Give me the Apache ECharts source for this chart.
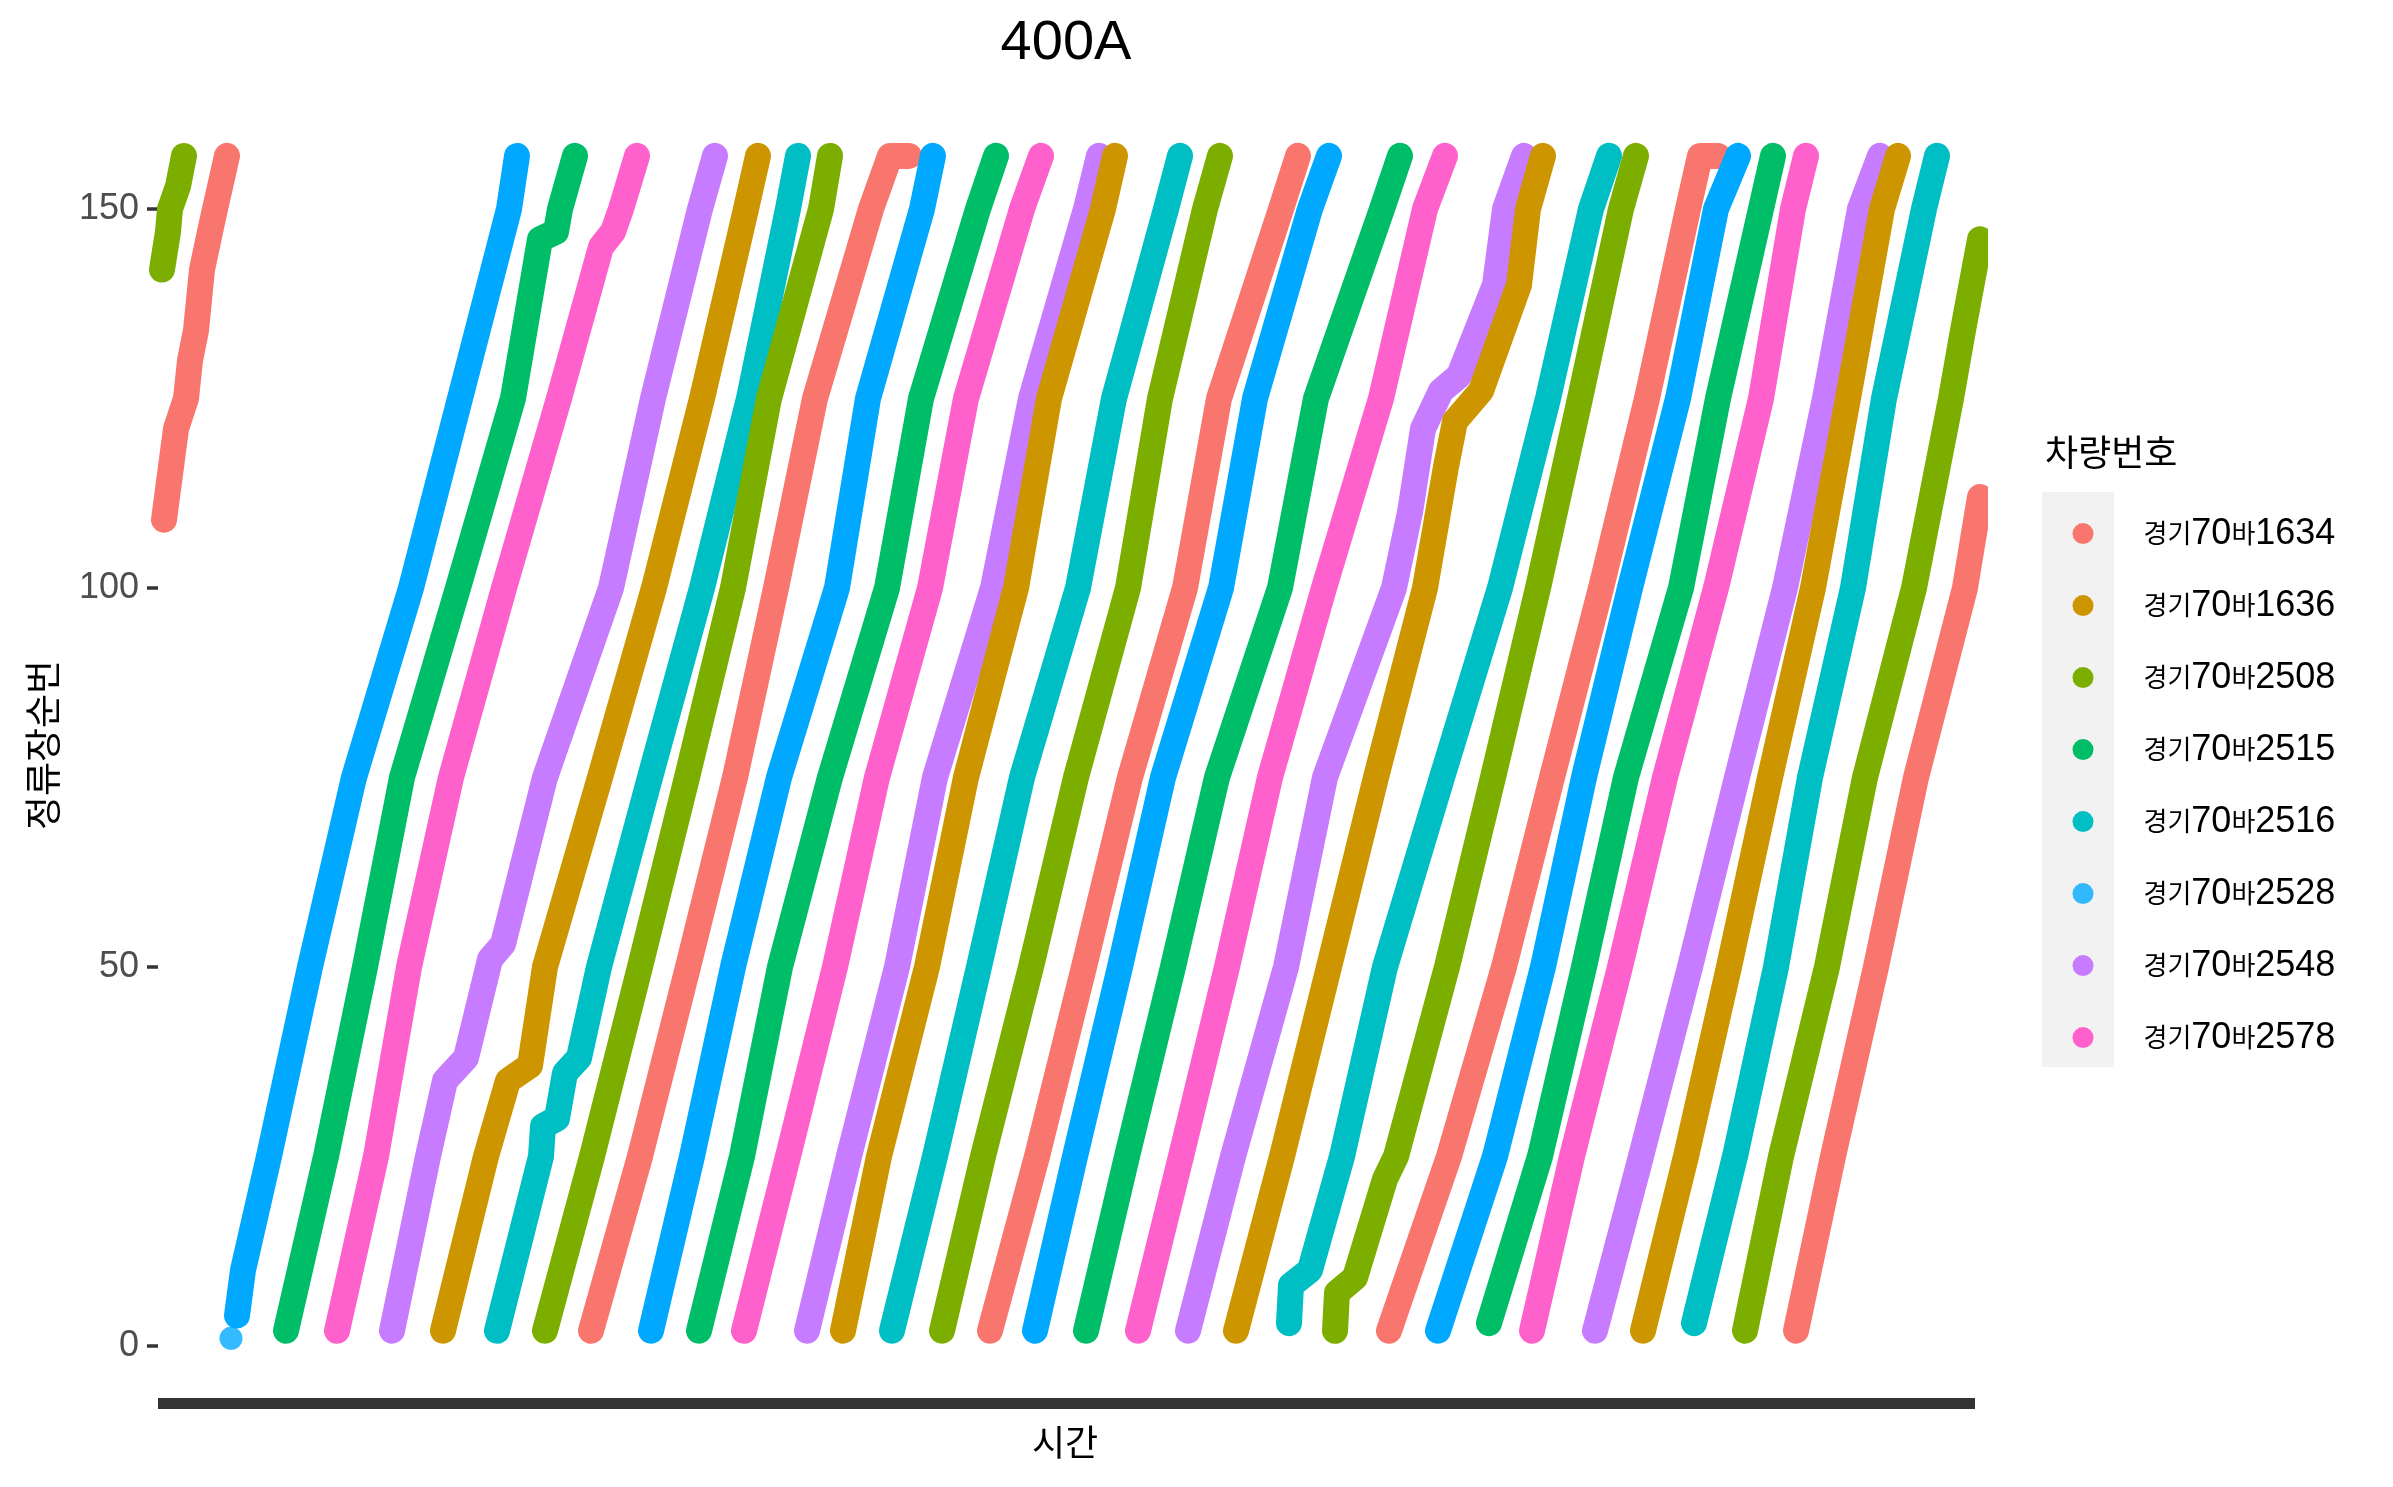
<!DOCTYPE html>
<html>
<head>
<meta charset="utf-8">
<script src="https://cdn.jsdelivr.net/npm/echarts@6/dist/echarts.min.js"></script>
<style>
  html, body { margin: 0; padding: 0; background: #fff; }
  #chart { width: 2393px; height: 1487px; }
</style>
</head>
<body>
<div id="chart"></div>
<script>
// 차량번호 (legend order)
const vehicles = ['경기70바1634', '경기70바1636', '경기70바2508', '경기70바2515',
                  '경기70바2516', '경기70바2528', '경기70바2548', '경기70바2578'];
const palette = ['#F8766D', '#CD9600', '#7CAE00', '#00BE67', '#00BFC4', '#00A9FF', '#C77CFF', '#FF61CC'];
const yTicks = [0, 50, 100, 150];

// each trip: [시간, 정류장순번] (time axis has no labels)
const bus1634 = [
  [[164,109],[176,121],[186,125],[190,130],[196,134],[202,142],[210,147],[215,150],[227,157]],
  [[591,2],[640,25],[688,50],[735,75],[776,100],[815,125],[871,150],[890,157],[909,157]],
  [[990,2],[1037,25],[1084,50],[1130,75],[1185,100],[1219,125],[1281,150],[1298,157]],
  [[1389,2],[1449,25],[1504,50],[1552,75],[1601,100],[1647,125],[1688,150],[1700,157],[1718,157]],
  [[1796,2],[1833,25],[1876,50],[1916,75],[1965,100],[1980,112]]
];
const bus1636 = [
  [[443,2],[486,25],[508,35],[530,37],[545,50],[600,75],[654,100],[702,125],[746,150],[758,157]],
  [[843,2],[879,25],[927,50],[966,75],[1016,100],[1049,125],[1103,150],[1115,157]],
  [[1236,2],[1282,25],[1329,50],[1376,75],[1425,100],[1446,116],[1455,122],[1481,126],[1519,140],[1528,150],[1543,157]],
  [[1643,2],[1686,25],[1729,50],[1770,75],[1813,100],[1848,125],[1882,150],[1898,157]]
];
const bus2508 = [
  [[162,142],[168,147],[170,150],[178,153],[184,157]],
  [[545,2],[592,25],[640,50],[687,75],[733,100],[769,125],[821,150],[830,157]],
  [[942,2],[983,25],[1031,50],[1076,75],[1128,100],[1160,125],[1205,150],[1220,157]],
  [[1335,2],[1337,7],[1355,9],[1385,22],[1396,25],[1447,50],[1493,75],[1538,100],[1580,125],[1621,150],[1636,157]],
  [[1745,2],[1781,25],[1827,50],[1865,75],[1914,100],[1951,125],[1963,134],[1980,146]]
];
const bus2515 = [
  [[286,2],[326,25],[365,50],[402,75],[458,100],[513,125],[540,146],[556,147],[560,150],[575,157]],
  [[699,2],[742,25],[780,50],[830,75],[887,100],[921,125],[978,150],[996,157]],
  [[1086,2],[1127,25],[1173,50],[1217,75],[1280,100],[1316,125],[1382,150],[1400,157]],
  [[1489,3],[1540,25],[1584,50],[1626,75],[1681,100],[1718,125],[1761,150],[1773,157]]
];
const bus2516 = [
  [[497,2],[541,25],[543,29],[557,30],[565,36],[579,38],[599,50],[650,75],[702,100],[749,125],[788,150],[798,157]],
  [[892,2],[935,25],[979,50],[1022,75],[1078,100],[1114,125],[1166,150],[1180,157]],
  [[1289,3],[1291,8],[1310,10],[1342,25],[1385,50],[1442,75],[1500,100],[1548,125],[1591,150],[1609,157]],
  [[1694,3],[1735,25],[1776,50],[1810,75],[1853,100],[1884,125],[1924,150],[1937,157]]
];
const bus2528 = [
  [[237,4],[243,10],[269,25],[310,50],[354,75],[411,100],[460,125],[509,150],[517,157]],
  [[651,2],[692,25],[733,50],[779,75],[837,100],[868,125],[922,150],[933,157]],
  [[1035,2],[1075,25],[1120,50],[1163,75],[1221,100],[1255,125],[1310,150],[1329,157]],
  [[1438,2],[1495,25],[1543,50],[1584,75],[1630,100],[1678,125],[1716,150],[1738,157]]
];
const bus2528First = [[231, 1]];
const bus2548 = [
  [[392,2],[428,25],[445,35],[466,38],[490,51],[503,53],[545,75],[611,100],[653,125],[700,150],[715,157]],
  [[807,2],[849,25],[897,50],[935,75],[993,100],[1031,125],[1086,150],[1099,157]],
  [[1188,2],[1233,25],[1286,50],[1325,75],[1394,100],[1410,110],[1423,121],[1441,126],[1459,128],[1495,140],[1505,150],[1524,157]],
  [[1595,2],[1641,25],[1690,50],[1737,75],[1785,100],[1825,125],[1860,150],[1880,157]]
];
const bus2578 = [
  [[337,2],[376,25],[409,50],[451,75],[504,100],[559,125],[601,145],[613,147],[621,150],[637,157]],
  [[744,2],[788,25],[835,50],[877,75],[930,100],[966,125],[1022,150],[1041,157]],
  [[1138,2],[1181,25],[1227,50],[1270,75],[1324,100],[1381,125],[1425,150],[1445,157]],
  [[1532,2],[1572,25],[1620,50],[1665,75],[1716,100],[1761,125],[1793,150],[1806,157]]
];

const tripsByVehicle = [bus1634, bus1636, bus2508, bus2515, bus2516, bus2528, bus2548, bus2578];

const chart = echarts.init(document.getElementById('chart'));

let trips = [];
tripsByVehicle.forEach((list, i) => {
  list.forEach(t => trips.push({ v: i, data: t }));
});
// later trips are drawn over earlier ones
trips.sort((a, b) => a.data[0][0] - b.data[0][0]);

const series = trips.map(t => ({
  type: 'line',
  name: vehicles[t.v],
  data: t.data,
  symbol: 'none',
  color: palette[t.v],
  itemStyle: { color: palette[t.v] },
  lineStyle: { color: palette[t.v], width: 26, cap: 'round', join: 'round' },
  silent: true
}));
series.unshift({
  type: 'scatter',
  name: vehicles[5],
  data: bus2528First,
  symbolSize: 23,
  itemStyle: { color: palette[5] },
  silent: true
});

const option = {
  animation: false,
  backgroundColor: '#ffffff',
  grid: { left: 158, top: 96.4, width: 1817, height: 1307 },
  xAxis: {
    type: 'value',
    min: 158,
    max: 1975,
    axisLine: { show: true, onZero: false, lineStyle: { color: '#333333', width: 11, cap: 'butt' } },
    axisTick: { show: false },
    axisLabel: { show: false },
    splitLine: { show: false }
  },
  yAxis: {
    type: 'value',
    min: -7.59,
    max: 164.85,
    axisLine: { show: false },
    axisTick: { show: true, customValues: yTicks, length: 11, lineStyle: { color: '#333333', width: 3.5 } },
    axisLabel: {
      customValues: yTicks, margin: 19, color: '#4D4D4D',
      fontSize: 36, fontFamily: 'Liberation Sans, Arial, sans-serif'
    },
    splitLine: { show: false }
  },
  legend: {
    data: vehicles,
    orient: 'vertical',
    left: 2067.5,
    top: 510.6,
    icon: 'circle',
    itemWidth: 21,
    itemHeight: 21,
    itemGap: 36,
    selectedMode: false,
    itemStyle: { borderWidth: 0 },
    textStyle: {
      color: '#000000', fontSize: 36, lineHeight: 36,
      fontFamily: 'Liberation Sans, Arial, sans-serif',
      rich: {
        s: { width: 45 },
        k: { fontSize: 26, lineHeight: 36, fontFamily: 'Noto Sans CJK KR', color: '#000000' }
      }
    },
    formatter: name => '{s| }' + name.replace(/([가-힣]+)/g, '{k|$1}')
  },
  graphic: [
    { type: 'rect', left: 2042, top: 492, shape: { width: 72, height: 575 }, style: { fill: '#F2F2F2' }, z: -1 },
    { type: 'text', x: 2045, y: 452, style: { text: '차량번호', fontSize: 36, fontFamily: 'Noto Sans CJK KR', fill: '#000', textVerticalAlign: 'middle' } },
    { type: 'text', x: 1066, y: 44, style: { text: '400A', fontSize: 56, fontFamily: 'Liberation Sans, Arial, sans-serif', fill: '#000', textAlign: 'center', textVerticalAlign: 'middle' } },
    { type: 'text', x: 1065, y: 1442, style: { text: '시간', fontSize: 36, fontFamily: 'Noto Sans CJK KR', fill: '#000', textAlign: 'center', textVerticalAlign: 'middle' } },
    { type: 'text', x: 43, y: 745, rotation: Math.PI / 2, style: { text: '정류장순번', fontSize: 37, fontFamily: 'Noto Sans CJK KR', fill: '#000', textAlign: 'center', textVerticalAlign: 'middle' } }
  ],
  series: series
};

chart.setOption(option);
</script>
</body>
</html>
